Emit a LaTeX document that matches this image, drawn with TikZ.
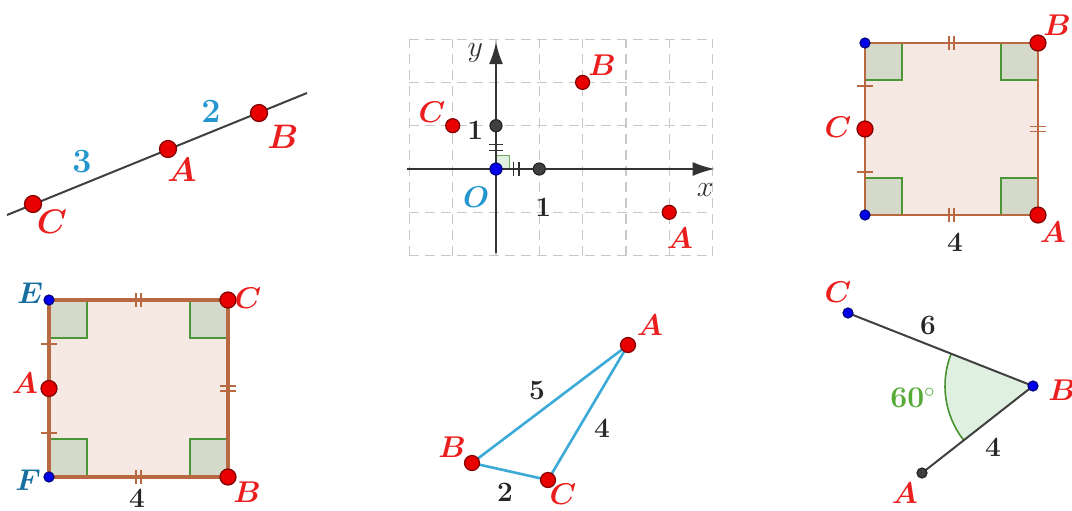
\documentclass[tikz,border=0pt]{standalone}
\usepackage{fix-cm}
\usepackage{amsmath}
\usetikzlibrary{arrows.meta, calc}

\definecolor{ptred}{RGB}{232,0,0}
\definecolor{ptblue}{RGB}{0,0,235}
\definecolor{ptgray}{RGB}{64,64,64}
\definecolor{lblred}{RGB}{235,30,30}
\definecolor{lblcyan}{RGB}{35,150,205}
\definecolor{lblteal}{RGB}{25,110,160}
\definecolor{edgebrown}{RGB}{185,105,65}
\definecolor{sqfill}{RGB}{246,232,227}
\definecolor{rafill}{RGB}{212,217,202}
\definecolor{ragreen}{RGB}{75,150,55}
\definecolor{angfill}{RGB}{224,240,224}
\definecolor{anggreen}{RGB}{85,170,55}
\definecolor{trisky}{RGB}{60,170,215}
\definecolor{gridgray}{RGB}{200,200,200}

\begin{document}
\begin{tikzpicture}[
  x=0.5pt, y=-0.5pt,
  every node/.style={inner sep=0pt},
  pnt/.style={circle, draw=#1!55!black, fill=#1, line width=0.6pt, minimum size=8pt},
  sml/.style={minimum size=5pt},
  lbl/.style={font=\fontsize{15}{15}\selectfont\boldmath, text=lblred},
  biglbl/.style={font=\fontsize{17}{17}\selectfont\boldmath, text=lblred},
  num/.style={font=\fontsize{14}{14}\selectfont\bfseries, text=black!85},
  ln/.style={line width=1pt, black!75},
  edge/.style={draw=edgebrown, line width=1.25pt},
  tick/.style={draw=edgebrown, line width=0.8pt},
  ramark/.style={fill=rafill, draw=ragreen, line width=0.8pt},
  tri/.style={draw=trisky, line width=1.3pt},
  axis/.style={line width=0.9pt, black!80, -{Latex[length=11pt,width=7pt]}},
  gridln/.style={gridgray, dash pattern=on 5pt off 3pt, line width=0.6pt}
]
\useasboundingbox (0,0) rectangle (1072,510);

% ---- PANEL 1: POINTS ON A LINE ----
\coordinate (l1s) at (7,215);
\coordinate (l1e) at (307,93);
\draw[ln] (l1s) -- (l1e);
\node[pnt=ptred, minimum size=8.5pt] (C1) at (33,204) {};
\node[pnt=ptred, minimum size=8.5pt] (A1) at (168,149) {};
\node[pnt=ptred, minimum size=8.5pt] (B1) at (259,113) {};
\node[biglbl] (C1l) at (52,222) {$C$};
\node[biglbl] (A1l) at (182,170) {$A$};
\node[biglbl] (B1l) at (283,137) {$B$};
\node[biglbl, text=lblcyan] (n3) at (82,162) {$3$};
\node[biglbl, text=lblcyan] (n2) at (211,112) {$2$};

% ---- PANEL 2: COORDINATE GRID ----
\begin{scope}[shift={(496,169)}, x=21.65pt, y=21.65pt]
  \foreach \i in {-2,...,5} \draw[gridln] (\i,-2) -- (\i,3);
  \foreach \j in {-2,...,3} \draw[gridln] (-2,\j) -- (5,\j);
  \fill[angfill, draw=ragreen!80, line width=0.5pt] (0,0) rectangle (0.32,0.32);
  \coordinate (xs) at (-2.05,0);
  \coordinate (xe) at (5.05,0);
  \coordinate (ys) at (0,-1.95);
  \coordinate (ye) at (0,2.93);
  \draw[axis] (xs) -- (xe);
  \draw[axis] (ys) -- (ye);
  % equal ticks
  \draw[line width=0.8pt, black!80] (-0.17,0.43) -- (0.17,0.43) (-0.17,0.57) -- (0.17,0.57);
  \draw[line width=0.8pt, black!80] (0.40,-0.17) -- (0.40,0.17) (0.53,-0.17) -- (0.53,0.17);
  \node[pnt=ptblue, minimum size=6pt] (O2) at (0,0) {};
  \node[pnt=ptgray, minimum size=6pt] (X2) at (1,0) {};
  \node[pnt=ptgray, minimum size=6pt] (Y2) at (0,1) {};
  \node[pnt=ptred, minimum size=7pt] (C2) at (-1,1) {};
  \node[pnt=ptred, minimum size=7pt] (B2) at (2,2) {};
  \node[pnt=ptred, minimum size=7pt] (A2) at (4,-1) {};
  \node[lbl, text=lblcyan] (O2l) at (-0.46,-0.65) {$O$};
  \node[num, font=\fontsize{14}{14}\selectfont\bfseries] (X2l) at (1.09,-0.88) {1};
  \node[num, font=\fontsize{14}{14}\selectfont\bfseries] (Y2l) at (-0.48,0.9) {1};
  \node[lbl] (C2l) at (-1.48,1.32) {$C$};
  \node[lbl] (B2l) at (2.45,2.4) {$B$};
  \node[lbl] (A2l) at (4.25,-1.6) {$A$};
  \node[font=\fontsize{15}{15}\selectfont, text=black!80] (xl) at (4.83,-0.48) {$x$};
  \node[font=\fontsize{15}{15}\selectfont, text=black!80] (yl) at (-0.48,2.68) {$y$};
\end{scope}

% ---- PANEL 3: SQUARE, C ON LEFT SIDE ----
\coordinate (sqTL) at (865,43);
\coordinate (sqB) at (1038,43);
\coordinate (sqA) at (1038,215);
\coordinate (sqBL) at (865,215);
\coordinate (sqC) at ($(sqTL)!0.5!(sqBL)$);
\fill[sqfill] (sqTL) rectangle (sqA);
\draw[ramark] (sqTL) rectangle ++(37,37);
\draw[ramark] (sqB) rectangle ++(-37,37);
\draw[ramark] (sqA) rectangle ++(-37,-37);
\draw[ramark] (sqBL) rectangle ++(37,-37);
\draw[edge] (sqTL) -- (sqB) -- (sqA) -- (sqBL) -- cycle;
\draw[tick] ($(sqTL)!0.5!(sqC)$) ++(-8,0) -- ++(16,0);
\draw[tick] ($(sqC)!0.5!(sqBL)$) ++(-8,0) -- ++(16,0);
\draw[tick] ($(sqTL)!0.5!(sqB)$) ++(-2.5,-7) -- ++(0,14) ++(5,-14) -- ++(0,14);
\draw[tick] ($(sqBL)!0.5!(sqA)$) ++(-2.5,-7) -- ++(0,14) ++(5,-14) -- ++(0,14);
\draw[tick] ($(sqB)!0.5!(sqA)$) ++(-8,-2.5) -- ++(16,0) ++(-16,5) -- ++(16,0);
\node[pnt=ptblue, sml] (d3tl) at (sqTL) {};
\node[pnt=ptblue, sml] (d3bl) at (sqBL) {};
\node[pnt=ptred] (d3B) at (sqB) {};
\node[pnt=ptred] (d3A) at (sqA) {};
\node[pnt=ptred] (d3C) at (sqC) {};
\node[lbl] (B3l) at (1057,25) {$B$};
\node[lbl] (A3l) at (1053,232) {$A$};
\node[lbl] (C3l) at (838,127) {$C$};
\node[num] (len3) at (955,242) {4};

% ---- PANEL 4: SQUARE ECBF ----
\coordinate (sqE) at (49,300);
\coordinate (sqC4) at (228,300);
\coordinate (sqB4) at (228,477);
\coordinate (sqF) at (49,477);
\coordinate (sqA4) at ($(sqE)!0.5!(sqF)$);
\fill[sqfill] (sqE) rectangle (sqB4);
\draw[ramark] (sqE) rectangle ++(38,38);
\draw[ramark] (sqC4) rectangle ++(-38,38);
\draw[ramark] (sqB4) rectangle ++(-38,-38);
\draw[ramark] (sqF) rectangle ++(38,-38);
\draw[edge, line width=1.6pt] (sqE) -- (sqC4) -- (sqB4) -- (sqF) -- cycle;
\draw[tick] ($(sqE)!0.5!(sqA4)$) ++(-8,0) -- ++(16,0);
\draw[tick] ($(sqA4)!0.5!(sqF)$) ++(-8,0) -- ++(16,0);
\draw[tick] ($(sqE)!0.5!(sqC4)$) ++(-2.5,-7) -- ++(0,14) ++(5,-14) -- ++(0,14);
\draw[tick] ($(sqF)!0.5!(sqB4)$) ++(-2.5,-7) -- ++(0,14) ++(5,-14) -- ++(0,14);
\draw[tick] ($(sqC4)!0.5!(sqB4)$) ++(-8,-2.5) -- ++(16,0) ++(-16,5) -- ++(16,0);
\node[pnt=ptblue, sml] (d4E) at (sqE) {};
\node[pnt=ptblue, sml] (d4F) at (sqF) {};
\node[pnt=ptred] (d4C) at (sqC4) {};
\node[pnt=ptred] (d4B) at (sqB4) {};
\node[pnt=ptred] (d4A) at (sqA4) {};
\node[lbl, text=lblteal] (E4l) at (30,293) {$E$};
\node[lbl, text=lblteal] (F4l) at (28,480) {$F$};
\node[lbl] (C4l) at (248,298) {$C$};
\node[lbl] (A4l) at (25,383) {$A$};
\node[lbl] (B4l) at (247,492) {$B$};
\node[num] (len4) at (137,498) {4};

% ---- PANEL 5: TRIANGLE ----
\coordinate (tA) at (628,345);
\coordinate (tB) at (472,463);
\coordinate (tC) at (548,480);
\draw[tri] (tA) -- (tB) -- (tC) -- cycle;
\node[pnt=ptred, minimum size=7.5pt] (d5A) at (tA) {};
\node[pnt=ptred, minimum size=7.5pt] (d5B) at (tB) {};
\node[pnt=ptred, minimum size=7.5pt] (d5C) at (tC) {};
\node[lbl] (A5l) at (650,325) {$A$};
\node[lbl] (B5l) at (452,447) {$B$};
\node[lbl] (C5l) at (563,494) {$C$};
\node[num] (n5) at (537,390) {5};
\node[num] (n4) at (602,428) {4};
\node[num] (n2b) at (505,492) {2};

% ---- PANEL 6: ANGLE CBA ----
\coordinate (aC) at (848,313);
\coordinate (aB) at (1033,386);
\coordinate (aA) at (922,473);
\fill[angfill] (aB) -- ++(201.5:88) arc[start angle=201.5, end angle=141.9, radius=88] -- cycle;
\draw[anggreen!85!black, line width=0.8pt] ($(aB)+(201.5:88)$) arc[start angle=201.5, end angle=141.9, radius=88];
\draw[ln] (aC) -- (aB) -- (aA);
\node[pnt=ptblue, sml] (d6C) at (aC) {};
\node[pnt=ptblue, sml] (d6B) at (aB) {};
\node[pnt=ptgray, sml] (d6A) at (aA) {};
\node[lbl] (C6l) at (838,292) {$C$};
\node[lbl] (B6l) at (1062,390) {$B$};
\node[lbl] (A6l) at (905,493) {$A$};
\node[num] (n6) at (928,325) {6};
\node[num] (n4b) at (993,447) {4};
\node[font=\fontsize{15}{15}\selectfont\bfseries, text=anggreen] (ang6) at (913,398) {60$^\circ$};
\end{tikzpicture}
\end{document}
